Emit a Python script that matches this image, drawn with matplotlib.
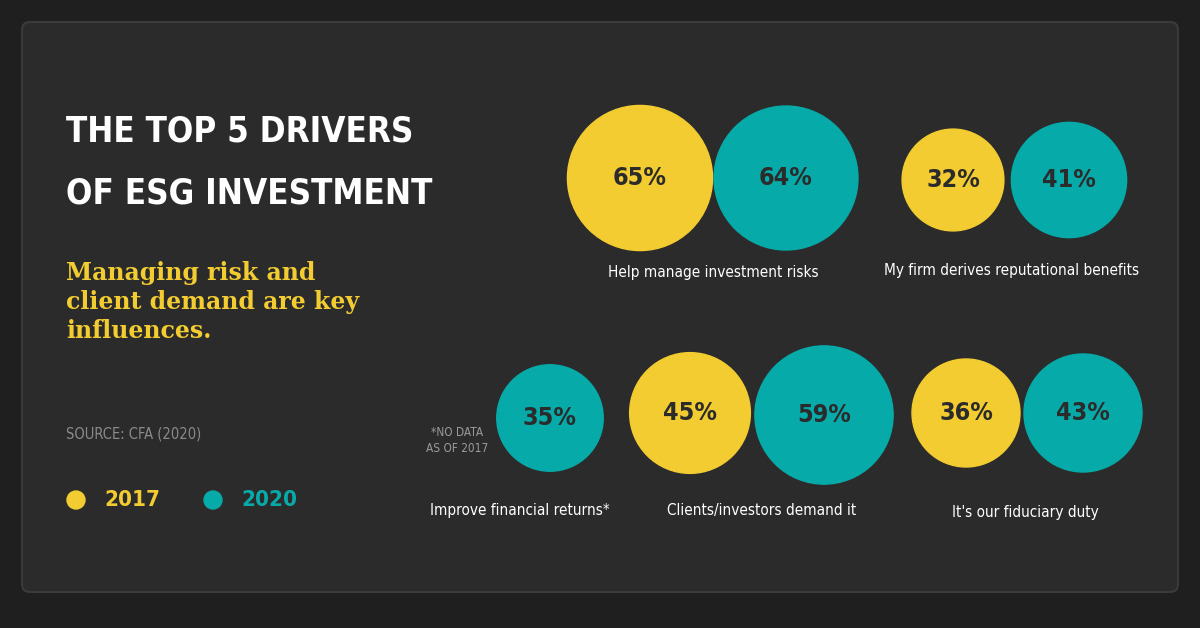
import matplotlib.pyplot as plt
from matplotlib.patches import Circle, FancyBboxPatch
import numpy as np

# data
drivers = ["Help manage investment risks", "My firm derives reputational benefits",
           "Improve financial returns*", "Clients/investors demand it", "It's our fiduciary duty"]
v2017 = [65, 32, None, 45, 36]
v2020 = [64, 41, 35, 59, 43]

# layout (pixel coords, y down)
c2017 = [(640, 178), (953, 180), None, (690, 413), (966, 413)]
c2020 = [(786, 178), (1069, 180), (550, 418), (824, 415), (1083, 413)]
label_pos = [(713, 272), (1012, 270), (520, 511), (762, 511), (1025, 513)]

YEL = "#f2cc30"
TEAL = "#06aaa8"
BG = "#2b2b2b"
FAM = "DejaVu Sans"
ST = "condensed"

fig = plt.figure(figsize=(12, 6.28), dpi=100, facecolor="#1f1f1f")
ax = fig.add_axes([0, 0, 1, 1])
ax.set_xlim(0, 1200)
ax.set_ylim(628, 0)
ax.axis("off")

ax.add_patch(FancyBboxPatch((22, 22), 1156, 570, boxstyle="round,pad=0,rounding_size=8",
                            fc=BG, ec="#3a3a3a", lw=1.5))

def bubble(c, v, col):
    r = 9 * np.sqrt(v)
    ax.add_patch(Circle(c, r, color=col))
    ax.text(c[0], c[1], f"{v}%", ha="center", va="center", fontsize=18,
            fontweight="bold", color="#2b2b2b", family=FAM, fontstretch=ST)

for i in range(len(drivers)):
    if v2017[i] is not None:
        bubble(c2017[i], v2017[i], YEL)
    bubble(c2020[i], v2020[i], TEAL)
    ax.text(*label_pos[i], drivers[i], ha="center", va="center", fontsize=11,
            color="white", family=FAM, fontstretch=ST)

ax.text(457, 440, "*NO DATA\nAS OF 2017", ha="center", va="center", fontsize=8.5,
        color="#9a9a9a", family=FAM, fontstretch=ST, linespacing=1.3)

ax.text(66, 132, "THE TOP 5 DRIVERS", fontsize=25, fontweight="bold", color="white",
        va="center", family=FAM, fontstretch=ST)
ax.text(66, 194, "OF ESG INVESTMENT", fontsize=25, fontweight="bold", color="white",
        va="center", family=FAM, fontstretch=ST)
ax.text(66, 302, "Managing risk and\nclient demand are key\ninfluences.", fontsize=17,
        fontweight="bold", color=YEL, va="center", family="DejaVu Serif", linespacing=1.25)
ax.text(66, 434, "SOURCE: CFA (2020)", fontsize=10.5, color="#8a8a8a", va="center",
        family=FAM, fontstretch=ST)

ax.add_patch(Circle((76, 500), 9, color=YEL))
ax.text(104, 500, "2017", fontsize=16, fontweight="bold", color=YEL, va="center",
        family=FAM, fontstretch=ST)
ax.add_patch(Circle((213, 500), 9, color=TEAL))
ax.text(241, 500, "2020", fontsize=16, fontweight="bold", color=TEAL, va="center",
        family=FAM, fontstretch=ST)

fig.savefig("out.png", dpi=100, facecolor=fig.get_facecolor())
